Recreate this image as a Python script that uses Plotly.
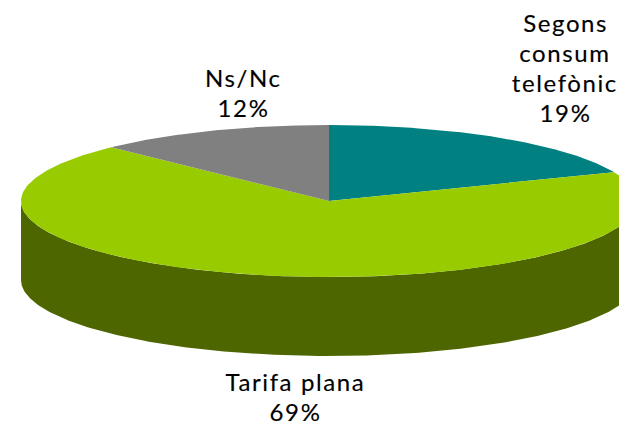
import numpy as np
import plotly.graph_objects as go

categories = ["Segons consum telefònic", "Tarifa plana", "Ns/Nc"]
values = [18.8, 68.7, 12.5]
label_lines = [["Segons", "consum", "telefònic", "19%"], ["Tarifa plana", "69%"], ["Ns/Nc", "12%"]]
top_colors = ["#008080", "#99CC00", "#808080"]
side_colors = ["#004040", "#4D6600", "#404040"]

W, H = 619, 424
CX, CY, RX, RY, DEPTH = 329, 201, 308, 76, 79
FONT = "Lato"
FONT_SIZE = 24
LINE_GAP = 30
label_pos = [(565, 22), (295, 381), (243, 77)]


def rim(a0, a1, n=240):
    t = np.radians(np.linspace(a0, a1, n))
    return CX + RX * np.sin(t), CY - RY * np.cos(t)


fig = go.Figure()
fractions = np.array(values) / sum(values) * 360
edges = np.concatenate([[0], np.cumsum(fractions)])

for i in range(len(values)):
    lo, hi = max(edges[i], 90), min(edges[i + 1], 270)
    if hi > lo:
        x, y = rim(lo, hi)
        fig.add_trace(go.Scatter(
            x=np.concatenate([x, x[::-1]]),
            y=np.concatenate([y, y[::-1] + DEPTH]),
            mode="lines", fill="toself", fillcolor=side_colors[i],
            line=dict(width=0), hoverinfo="skip", showlegend=False))

for i, name in enumerate(categories):
    x, y = rim(edges[i], edges[i + 1])
    fig.add_trace(go.Scatter(
        x=np.concatenate([[CX], x, [CX]]),
        y=np.concatenate([[CY], y, [CY]]),
        mode="lines", fill="toself", fillcolor=top_colors[i],
        line=dict(width=0), name=name, hoverinfo="name", showlegend=False))

annotations = []
for lines, (lx, ly) in zip(label_lines, label_pos):
    for k, line in enumerate(lines):
        annotations.append(dict(
            x=lx, y=ly + k * LINE_GAP, text=line, showarrow=False,
            xanchor="center", yanchor="middle",
            font=dict(family=FONT, size=FONT_SIZE, color="#000000")))

fig.update_layout(
    width=W, height=H, margin=dict(l=0, r=0, t=0, b=0),
    paper_bgcolor="white", plot_bgcolor="white",
    xaxis=dict(range=[0, W], visible=False, fixedrange=True),
    yaxis=dict(range=[H, 0], visible=False, fixedrange=True),
    annotations=annotations, showlegend=False)

fig.write_html("out.html", config={"displayModeBar": False},
               post_script="document.body.style.margin='0';"
                           "document.querySelectorAll('.annotation-text')"
                           ".forEach(t=>{t.style.letterSpacing='1.6px';"
                           "t.style.stroke='#000';t.style.strokeWidth='0.15px';});")
